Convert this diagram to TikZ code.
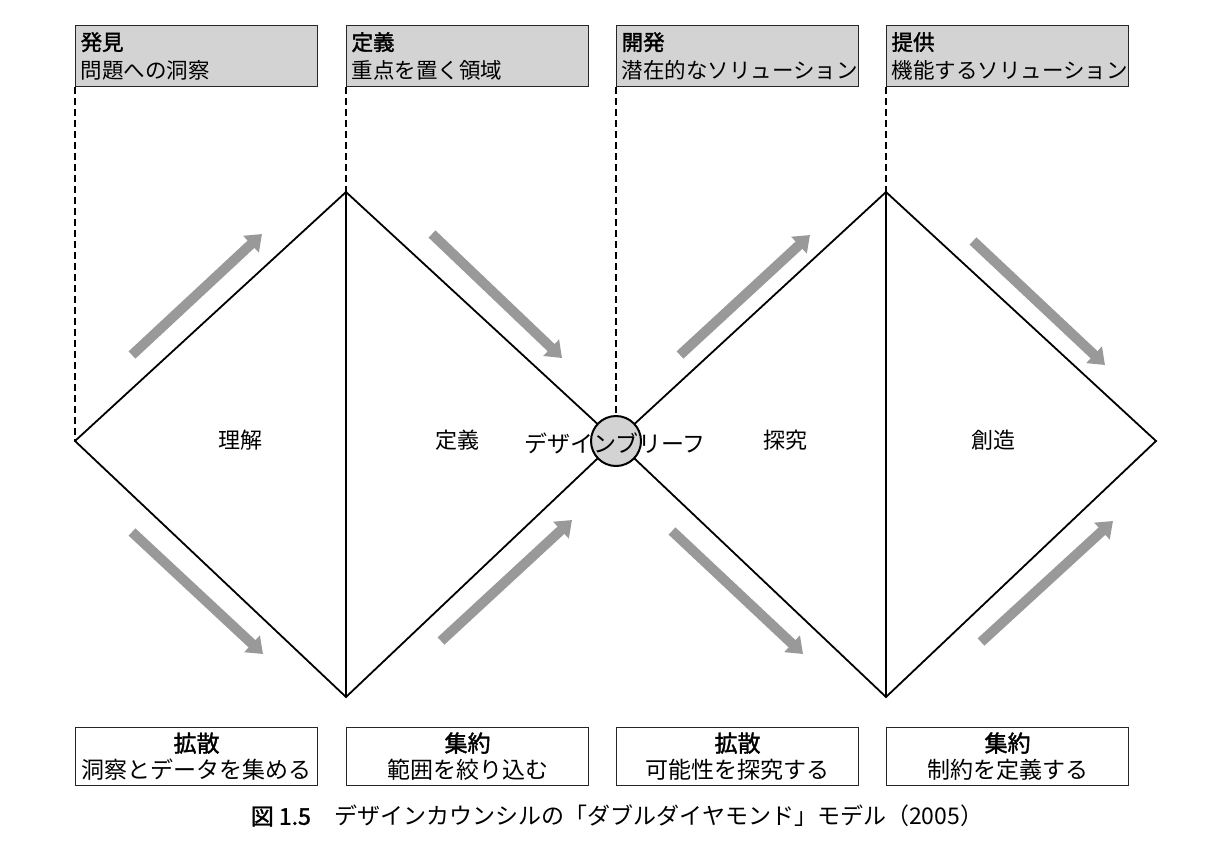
\documentclass[tikz,border=0pt]{standalone}
\usepackage{fontspec}
\usetikzlibrary{arrows.meta}
\newfontfamily\jp{Noto Sans CJK JP}
\newfontfamily\jpb{Noto Sans CJK JP}[FakeBold=1.6]
\definecolor{boxgray}{HTML}{D3D3D3}
\definecolor{arrgray}{HTML}{999999}
\tikzset{
  topbox/.style={draw=black!85, line width=1.2pt, fill=boxgray, anchor=north west,
    minimum width=242pt, minimum height=61pt, text width=232pt, align=left,
    inner xsep=5pt, inner ysep=2pt, font=\jp\fontsize{21.5}{28}\selectfont},
  botbox/.style={draw=black!85, line width=1.2pt, fill=white, anchor=north west,
    minimum width=242pt, minimum height=58pt, text width=238pt, align=center,
    inner sep=2pt, font=\jp\fontsize{23}{27}\selectfont},
  dia/.style={line width=1.8pt, black},
  guide/.style={line width=1.1pt, dash pattern=on 7pt off 4pt, black},
  bigarrow/.style={line width=10pt, arrgray, -{Triangle[width=22pt,length=15pt]}},
  lbl/.style={font=\jp\fontsize{22}{24}\selectfont, inner sep=0pt},
}
\begin{document}
\begin{tikzpicture}[x=1pt,y=-1pt]
\useasboundingbox (0,0) rectangle (1212,844);
% key coordinates
\coordinate (L1) at (75,441);
\coordinate (T1) at (346,192);
\coordinate (B1) at (346,697);
\coordinate (C) at (616,441);
\coordinate (T2) at (886,192);
\coordinate (B2) at (886,697);
\coordinate (R2) at (1156,441);
% top boxes
\node[topbox] (t1) at (75,25) {{\jpb 発見}\\問題への洞察};
\node[topbox] (t2) at (346,25) {{\jpb 定義}\\重点を置く領域};
\node[topbox] (t3) at (616,25) {{\jpb 開発}\\潜在的なソリューション};
\node[topbox] (t4) at (886,25) {{\jpb 提供}\\機能するソリューション};
% bottom boxes
\node[botbox] (b1) at (75,727) {{\jpb 拡散}\\洞察とデータを集める};
\node[botbox] (b2) at (346,727) {{\jpb 集約}\\範囲を絞り込む};
\node[botbox] (b3) at (616,727) {{\jpb 拡散}\\可能性を探究する};
\node[botbox] (b4) at (886,727) {{\jpb 集約}\\制約を定義する};
% diamonds
\draw[dia] (L1) -- (T1) -- (C) -- (B1) -- cycle;
\draw[dia] (T1) -- (B1);
\draw[dia] (C) -- (T2) -- (R2) -- (B2) -- cycle;
\draw[dia] (T2) -- (B2);
% circle
\node[circle, draw=black, line width=2pt, fill=boxgray, minimum size=50pt, inner sep=0pt] (brief) at (C) {};
% dashed guides
\draw[guide] (t1.south west) -- (L1);
\draw[guide] (t2.south west) -- (T1);
\draw[guide] (t3.south west) -- (brief.north);
\draw[guide] (t4.south west) -- (T2);
% gray arrows
\draw[bigarrow] (132,355) -- (262,234);
\draw[bigarrow] (132,532) -- (263,654);
\draw[bigarrow] (432,234) -- (562,358);
\draw[bigarrow] (441,641) -- (572,520);
\draw[bigarrow] (680,355) -- (810,235);
\draw[bigarrow] (672,531) -- (803,654);
\draw[bigarrow] (973,241) -- (1105,365);
\draw[bigarrow] (981,642) -- (1113,521);
% labels
\node[lbl] (n1) at (240,440) {理解};
\node[lbl] (n2) at (457,440) {定義};
\node[lbl, font=\jp\fontsize{23}{25}\selectfont] (n3) at (615,443) {デザインブリーフ};
\node[lbl] (n4) at (785,440) {探究};
\node[lbl] (n5) at (993,440) {創造};
% caption
\node[inner sep=0pt, font=\jp\fontsize{23}{26}\selectfont] (cap) at (617,816)
  {{\jpb 図 1.5}\hspace{24pt}デザインカウンシルの「ダブルダイヤモンド」モデル（2005）};
\end{tikzpicture}
\end{document}
